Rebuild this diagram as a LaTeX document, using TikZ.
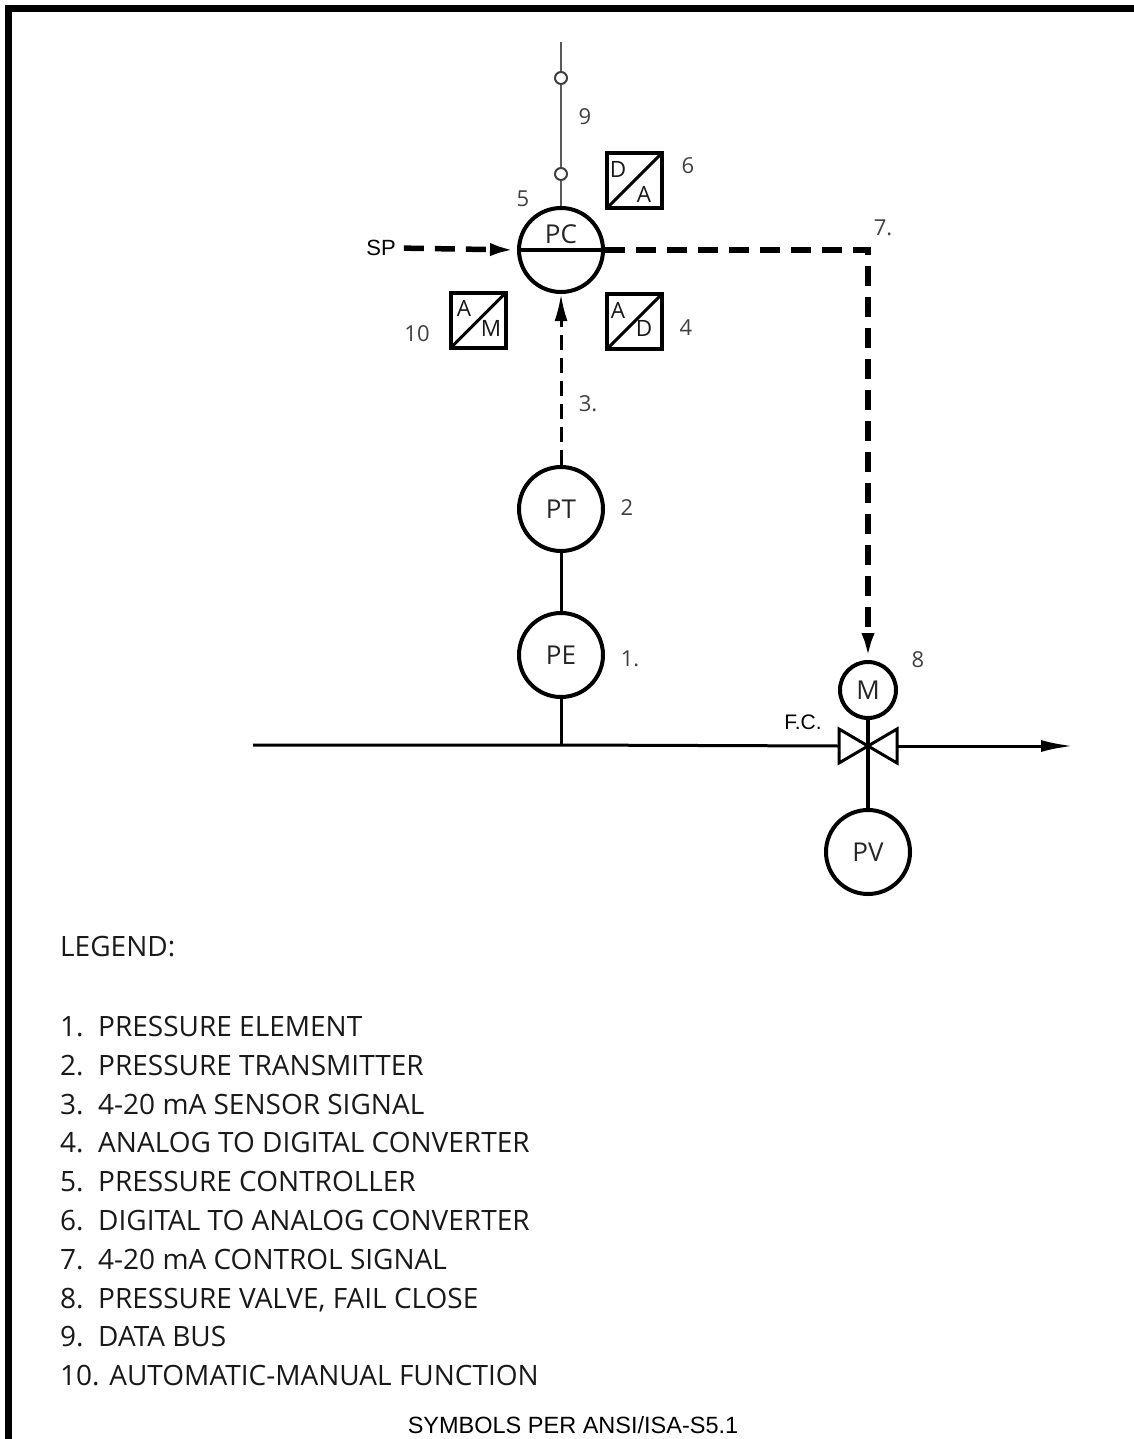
\documentclass[tikz,border=0pt]{standalone}
\usepackage{fontspec}
\setmainfont{Open Sans}
\newfontfamily\arialf{Liberation Sans}
\usetikzlibrary{arrows.meta,calc}
\begin{document}
\begin{tikzpicture}[x=1pt,y=-1pt,
  inst/.style={circle,draw,line width=4pt,minimum size=84pt,inner sep=0pt,
    font=\fontsize{26}{26}\selectfont,text=black!85},
  conv/.style={draw,line width=4pt,minimum size=55pt,inner sep=0pt,
    path picture={\draw[line width=3pt] (path picture bounding box.south west) -- (path picture bounding box.north east);}},
  cletter/.style={inner sep=0pt,font=\fontsize{22.5}{22.5}\selectfont,text=black!90},
  num/.style={inner sep=0pt,font=\fontsize{22}{22}\selectfont,text=black!75},
  ctl/.style={line width=5.5pt,dash pattern=on 20pt off 11pt},
  sig/.style={line width=3pt,dash pattern=on 15pt off 8pt},
  bigtip/.style={-{Latex[length=27pt,width=13pt]}},
  pipe/.style={line width=3pt},
  bus/.style={line width=2pt,draw=black!65},
  busc/.style={circle,draw=black!75,line width=2pt,fill=white,minimum size=12pt,inner sep=0pt},
  leg/.style={anchor=base west,inner sep=0pt,font=\fontsize{28}{28}\selectfont,text=black!90},
  lab/.style={inner sep=0pt,font=\arialf\fontsize{21}{21}\selectfont}
]
\useasboundingbox (0,0) rectangle (1133,1439);
% frame
\draw[line width=6.5pt] (8.5,1450) -- (8.5,8.5) -- (1145,8.5);

% instruments
\node[inst] (pc) at (561,250) {};
\node[inner sep=0pt,font=\fontsize{26}{26}\selectfont,text=black!85] (pctext) at (561,234) {PC};
\draw[line width=4pt] (pc.west) -- (pc.east);
\node[inst] (pt) at (561,509) {PT};
\node[inst] (pe) at (561,655) {PE};
\node[inst,minimum size=56pt] (m) at (868,690) {M};
\node[inst] (pv) at (868,852) {PV};

% converters
\node[conv] (da) at (634.5,180.5) {};
\node[cletter] (da1) at ($(da.center)+(-16.5,-11.5)$) {D};
\node[cletter] (da2) at ($(da.center)+(9.5,13.5)$) {A};
\node[conv] (ad) at (634.5,321.5) {};
\node[cletter] (ad1) at ($(ad.center)+(-16.5,-11.5)$) {A};
\node[cletter] (ad2) at ($(ad.center)+(9.5,6.5)$) {D};
\node[conv] (am) at (478,320.5) {};
\node[cletter] (am1) at ($(am.center)+(-14,-12)$) {A};
\node[cletter] (am2) at ($(am.center)+(13,7.5)$) {M};

% data bus
\coordinate (bustop) at (561,42);
\node[busc] (b1) at (561,78) {};
\node[busc] (b2) at (561,174) {};
\draw[bus] (bustop) -- (b1);
\draw[bus] (b1) -- (b2);
\draw[bus] (b2) -- (pc.north);

% signals
\node[lab,font=\arialf\fontsize{22}{22}\selectfont] (sp) at (381,248) {SP};
\draw[ctl,bigtip,shorten <=8pt] (sp.east) -- (pc.west);
\draw[ctl,bigtip] (pc.east) -| (m.north);
\draw[sig,bigtip] (pt.north) -- (pc.south);
\draw[line width=3pt] (pt.south) -- (pe.north);

% pipe and valve
\coordinate (pipeL) at (253,745);
\coordinate (tap) at (561,745);
\coordinate (v) at (868,746);
\coordinate (vl) at (839,746);
\coordinate (vr) at (897,746);
\coordinate (pipeR) at (1073,746);
\draw[pipe] (pe.south) -- (tap);
\draw[pipe] (pipeL) -- (tap) -- (vl);
\draw[pipe,-{Latex[length=32pt,width=12pt]}] (vr) -- (pipeR);
\draw[pipe,line join=miter] (v) -- (vl |- 0,729) -- (vl |- 0,763) -- cycle;
\draw[pipe,line join=miter] (v) -- (vr |- 0,729) -- (vr |- 0,763) -- cycle;
\draw[line width=4pt] (m.south) -- (pv.north);
\node[lab] (fc) at (803,722) {F.C.};

% numbers
\node[num] (n9) at (585,117) {9};
\node[num] (n6) at (688,166) {6};
\node[num] (n5) at (523,199) {5};
\node[num] (n7) at (883,228) {7.};
\node[num] (n10) at (417,334) {10};
\node[num] (n4) at (686,328) {4};
\node[num] (n3) at (588,404) {3.};
\node[num] (n2) at (627,508) {2};
\node[num] (n1) at (630,659) {1.};
\node[num] (n8) at (918,660) {8};

% legend
\node[leg] (lg) at (60,956) {LEGEND:};
\node[leg] (l1) at (60,1036.5) {1.\ \ PRESSURE ELEMENT};
\node[leg] (l2) at (60,1075.3) {2.\ \ PRESSURE TRANSMITTER};
\node[leg] (l3) at (60,1114.1) {3.\ \ 4-20 mA SENSOR SIGNAL};
\node[leg] (l4) at (60,1152.9) {4.\ \ ANALOG TO DIGITAL CONVERTER};
\node[leg] (l5) at (60,1191.7) {5.\ \ PRESSURE CONTROLLER};
\node[leg] (l6) at (60,1230.5) {6.\ \ DIGITAL TO ANALOG CONVERTER};
\node[leg] (l7) at (60,1269.3) {7.\ \ 4-20 mA CONTROL SIGNAL};
\node[leg] (l8) at (60,1308.1) {8.\ \ PRESSURE VALVE, FAIL CLOSE};
\node[leg] (l9) at (60,1346.9) {9.\ \ DATA BUS};
\node[leg] (l10) at (60,1385.7) {10. AUTOMATIC-MANUAL FUNCTION};
\node[anchor=base,inner sep=0pt,font=\arialf\fontsize{23.5}{23.5}\selectfont] (sym) at (573,1433.5) {SYMBOLS PER ANSI/ISA-S5.1};
\end{tikzpicture}
\end{document}
